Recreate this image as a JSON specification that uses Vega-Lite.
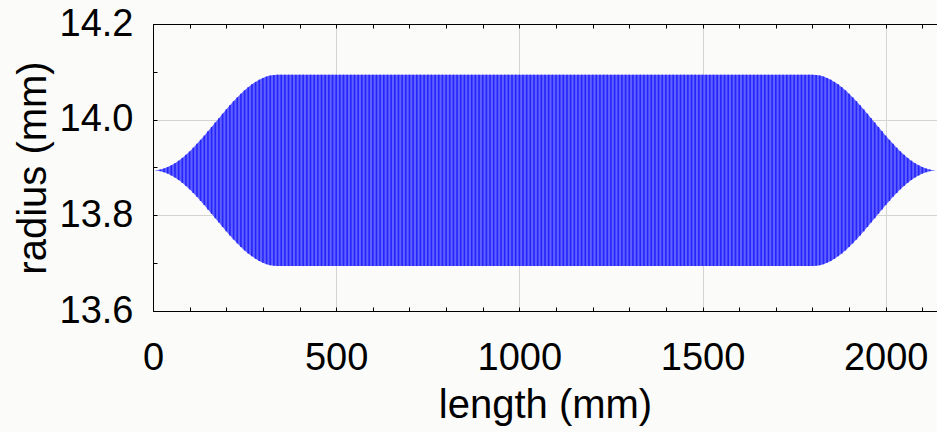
{
  "$schema": "https://vega.github.io/schema/vega-lite/v6.json",
  "width": 784,
  "height": 287,
  "autosize": {"type": "none"},
  "padding": {"left": 153, "top": 24, "right": 0, "bottom": 121},
  "background": "#fbfcfa",
  "config": {
    "view": {"stroke": null},
    "font": "Liberation Sans",
    "axis": {
      "domainColor": "#000000",
      "tickColor": "#000000",
      "labelColor": "#000000",
      "titleColor": "#000000",
      "labelFont": "Liberation Sans",
      "titleFont": "Liberation Sans",
      "labelFontSize": 38,
      "titleFontSize": 40,
      "titleFontWeight": "normal",
      "gridColor": "#d4d4d4",
      "gridWidth": 1
    }
  },
  "data": {"values": [
    {"x": 0, "lo": 13.894, "hi": 13.894},
    {"x": 10, "lo": 13.8936, "hi": 13.8944},
    {"x": 20, "lo": 13.8923, "hi": 13.8957},
    {"x": 30, "lo": 13.8902, "hi": 13.8978},
    {"x": 40, "lo": 13.8872, "hi": 13.9008},
    {"x": 50, "lo": 13.8835, "hi": 13.9045},
    {"x": 60, "lo": 13.879, "hi": 13.909},
    {"x": 70, "lo": 13.8738, "hi": 13.9142},
    {"x": 80, "lo": 13.8679, "hi": 13.9201},
    {"x": 90, "lo": 13.8614, "hi": 13.9266},
    {"x": 100, "lo": 13.8543, "hi": 13.9337},
    {"x": 110, "lo": 13.8466, "hi": 13.9414},
    {"x": 120, "lo": 13.8386, "hi": 13.9494},
    {"x": 130, "lo": 13.8301, "hi": 13.9579},
    {"x": 140, "lo": 13.8214, "hi": 13.9666},
    {"x": 150, "lo": 13.8124, "hi": 13.9756},
    {"x": 160, "lo": 13.8032, "hi": 13.9848},
    {"x": 170, "lo": 13.794, "hi": 13.994},
    {"x": 180, "lo": 13.7848, "hi": 14.0032},
    {"x": 190, "lo": 13.7756, "hi": 14.0124},
    {"x": 200, "lo": 13.7666, "hi": 14.0214},
    {"x": 210, "lo": 13.7579, "hi": 14.0301},
    {"x": 220, "lo": 13.7494, "hi": 14.0386},
    {"x": 230, "lo": 13.7414, "hi": 14.0466},
    {"x": 240, "lo": 13.7337, "hi": 14.0543},
    {"x": 250, "lo": 13.7266, "hi": 14.0614},
    {"x": 260, "lo": 13.7201, "hi": 14.0679},
    {"x": 270, "lo": 13.7142, "hi": 14.0738},
    {"x": 280, "lo": 13.709, "hi": 14.079},
    {"x": 290, "lo": 13.7045, "hi": 14.0835},
    {"x": 300, "lo": 13.7008, "hi": 14.0872},
    {"x": 310, "lo": 13.6978, "hi": 14.0902},
    {"x": 320, "lo": 13.6957, "hi": 14.0923},
    {"x": 330, "lo": 13.6944, "hi": 14.0936},
    {"x": 340, "lo": 13.694, "hi": 14.094},
    {"x": 350, "lo": 13.694, "hi": 14.094},
    {"x": 360, "lo": 13.694, "hi": 14.094},
    {"x": 370, "lo": 13.694, "hi": 14.094},
    {"x": 380, "lo": 13.694, "hi": 14.094},
    {"x": 390, "lo": 13.694, "hi": 14.094},
    {"x": 400, "lo": 13.694, "hi": 14.094},
    {"x": 410, "lo": 13.694, "hi": 14.094},
    {"x": 420, "lo": 13.694, "hi": 14.094},
    {"x": 430, "lo": 13.694, "hi": 14.094},
    {"x": 440, "lo": 13.694, "hi": 14.094},
    {"x": 450, "lo": 13.694, "hi": 14.094},
    {"x": 460, "lo": 13.694, "hi": 14.094},
    {"x": 470, "lo": 13.694, "hi": 14.094},
    {"x": 480, "lo": 13.694, "hi": 14.094},
    {"x": 490, "lo": 13.694, "hi": 14.094},
    {"x": 500, "lo": 13.694, "hi": 14.094},
    {"x": 510, "lo": 13.694, "hi": 14.094},
    {"x": 520, "lo": 13.694, "hi": 14.094},
    {"x": 530, "lo": 13.694, "hi": 14.094},
    {"x": 540, "lo": 13.694, "hi": 14.094},
    {"x": 550, "lo": 13.694, "hi": 14.094},
    {"x": 560, "lo": 13.694, "hi": 14.094},
    {"x": 570, "lo": 13.694, "hi": 14.094},
    {"x": 580, "lo": 13.694, "hi": 14.094},
    {"x": 590, "lo": 13.694, "hi": 14.094},
    {"x": 600, "lo": 13.694, "hi": 14.094},
    {"x": 610, "lo": 13.694, "hi": 14.094},
    {"x": 620, "lo": 13.694, "hi": 14.094},
    {"x": 630, "lo": 13.694, "hi": 14.094},
    {"x": 640, "lo": 13.694, "hi": 14.094},
    {"x": 650, "lo": 13.694, "hi": 14.094},
    {"x": 660, "lo": 13.694, "hi": 14.094},
    {"x": 670, "lo": 13.694, "hi": 14.094},
    {"x": 680, "lo": 13.694, "hi": 14.094},
    {"x": 690, "lo": 13.694, "hi": 14.094},
    {"x": 700, "lo": 13.694, "hi": 14.094},
    {"x": 710, "lo": 13.694, "hi": 14.094},
    {"x": 720, "lo": 13.694, "hi": 14.094},
    {"x": 730, "lo": 13.694, "hi": 14.094},
    {"x": 740, "lo": 13.694, "hi": 14.094},
    {"x": 750, "lo": 13.694, "hi": 14.094},
    {"x": 760, "lo": 13.694, "hi": 14.094},
    {"x": 770, "lo": 13.694, "hi": 14.094},
    {"x": 780, "lo": 13.694, "hi": 14.094},
    {"x": 790, "lo": 13.694, "hi": 14.094},
    {"x": 800, "lo": 13.694, "hi": 14.094},
    {"x": 810, "lo": 13.694, "hi": 14.094},
    {"x": 820, "lo": 13.694, "hi": 14.094},
    {"x": 830, "lo": 13.694, "hi": 14.094},
    {"x": 840, "lo": 13.694, "hi": 14.094},
    {"x": 850, "lo": 13.694, "hi": 14.094},
    {"x": 860, "lo": 13.694, "hi": 14.094},
    {"x": 870, "lo": 13.694, "hi": 14.094},
    {"x": 880, "lo": 13.694, "hi": 14.094},
    {"x": 890, "lo": 13.694, "hi": 14.094},
    {"x": 900, "lo": 13.694, "hi": 14.094},
    {"x": 910, "lo": 13.694, "hi": 14.094},
    {"x": 920, "lo": 13.694, "hi": 14.094},
    {"x": 930, "lo": 13.694, "hi": 14.094},
    {"x": 940, "lo": 13.694, "hi": 14.094},
    {"x": 950, "lo": 13.694, "hi": 14.094},
    {"x": 960, "lo": 13.694, "hi": 14.094},
    {"x": 970, "lo": 13.694, "hi": 14.094},
    {"x": 980, "lo": 13.694, "hi": 14.094},
    {"x": 990, "lo": 13.694, "hi": 14.094},
    {"x": 1000, "lo": 13.694, "hi": 14.094},
    {"x": 1010, "lo": 13.694, "hi": 14.094},
    {"x": 1020, "lo": 13.694, "hi": 14.094},
    {"x": 1030, "lo": 13.694, "hi": 14.094},
    {"x": 1040, "lo": 13.694, "hi": 14.094},
    {"x": 1050, "lo": 13.694, "hi": 14.094},
    {"x": 1060, "lo": 13.694, "hi": 14.094},
    {"x": 1070, "lo": 13.694, "hi": 14.094},
    {"x": 1080, "lo": 13.694, "hi": 14.094},
    {"x": 1090, "lo": 13.694, "hi": 14.094},
    {"x": 1100, "lo": 13.694, "hi": 14.094},
    {"x": 1110, "lo": 13.694, "hi": 14.094},
    {"x": 1120, "lo": 13.694, "hi": 14.094},
    {"x": 1130, "lo": 13.694, "hi": 14.094},
    {"x": 1140, "lo": 13.694, "hi": 14.094},
    {"x": 1150, "lo": 13.694, "hi": 14.094},
    {"x": 1160, "lo": 13.694, "hi": 14.094},
    {"x": 1170, "lo": 13.694, "hi": 14.094},
    {"x": 1180, "lo": 13.694, "hi": 14.094},
    {"x": 1190, "lo": 13.694, "hi": 14.094},
    {"x": 1200, "lo": 13.694, "hi": 14.094},
    {"x": 1210, "lo": 13.694, "hi": 14.094},
    {"x": 1220, "lo": 13.694, "hi": 14.094},
    {"x": 1230, "lo": 13.694, "hi": 14.094},
    {"x": 1240, "lo": 13.694, "hi": 14.094},
    {"x": 1250, "lo": 13.694, "hi": 14.094},
    {"x": 1260, "lo": 13.694, "hi": 14.094},
    {"x": 1270, "lo": 13.694, "hi": 14.094},
    {"x": 1280, "lo": 13.694, "hi": 14.094},
    {"x": 1290, "lo": 13.694, "hi": 14.094},
    {"x": 1300, "lo": 13.694, "hi": 14.094},
    {"x": 1310, "lo": 13.694, "hi": 14.094},
    {"x": 1320, "lo": 13.694, "hi": 14.094},
    {"x": 1330, "lo": 13.694, "hi": 14.094},
    {"x": 1340, "lo": 13.694, "hi": 14.094},
    {"x": 1350, "lo": 13.694, "hi": 14.094},
    {"x": 1360, "lo": 13.694, "hi": 14.094},
    {"x": 1370, "lo": 13.694, "hi": 14.094},
    {"x": 1380, "lo": 13.694, "hi": 14.094},
    {"x": 1390, "lo": 13.694, "hi": 14.094},
    {"x": 1400, "lo": 13.694, "hi": 14.094},
    {"x": 1410, "lo": 13.694, "hi": 14.094},
    {"x": 1420, "lo": 13.694, "hi": 14.094},
    {"x": 1430, "lo": 13.694, "hi": 14.094},
    {"x": 1440, "lo": 13.694, "hi": 14.094},
    {"x": 1450, "lo": 13.694, "hi": 14.094},
    {"x": 1460, "lo": 13.694, "hi": 14.094},
    {"x": 1470, "lo": 13.694, "hi": 14.094},
    {"x": 1480, "lo": 13.694, "hi": 14.094},
    {"x": 1490, "lo": 13.694, "hi": 14.094},
    {"x": 1500, "lo": 13.694, "hi": 14.094},
    {"x": 1510, "lo": 13.694, "hi": 14.094},
    {"x": 1520, "lo": 13.694, "hi": 14.094},
    {"x": 1530, "lo": 13.694, "hi": 14.094},
    {"x": 1540, "lo": 13.694, "hi": 14.094},
    {"x": 1550, "lo": 13.694, "hi": 14.094},
    {"x": 1560, "lo": 13.694, "hi": 14.094},
    {"x": 1570, "lo": 13.694, "hi": 14.094},
    {"x": 1580, "lo": 13.694, "hi": 14.094},
    {"x": 1590, "lo": 13.694, "hi": 14.094},
    {"x": 1600, "lo": 13.694, "hi": 14.094},
    {"x": 1610, "lo": 13.694, "hi": 14.094},
    {"x": 1620, "lo": 13.694, "hi": 14.094},
    {"x": 1630, "lo": 13.694, "hi": 14.094},
    {"x": 1640, "lo": 13.694, "hi": 14.094},
    {"x": 1650, "lo": 13.694, "hi": 14.094},
    {"x": 1660, "lo": 13.694, "hi": 14.094},
    {"x": 1670, "lo": 13.694, "hi": 14.094},
    {"x": 1680, "lo": 13.694, "hi": 14.094},
    {"x": 1690, "lo": 13.694, "hi": 14.094},
    {"x": 1700, "lo": 13.694, "hi": 14.094},
    {"x": 1710, "lo": 13.694, "hi": 14.094},
    {"x": 1720, "lo": 13.694, "hi": 14.094},
    {"x": 1730, "lo": 13.694, "hi": 14.094},
    {"x": 1740, "lo": 13.694, "hi": 14.094},
    {"x": 1750, "lo": 13.694, "hi": 14.094},
    {"x": 1760, "lo": 13.694, "hi": 14.094},
    {"x": 1770, "lo": 13.694, "hi": 14.094},
    {"x": 1780, "lo": 13.694, "hi": 14.094},
    {"x": 1790, "lo": 13.694, "hi": 14.094},
    {"x": 1800, "lo": 13.694, "hi": 14.094},
    {"x": 1810, "lo": 13.6944, "hi": 14.0936},
    {"x": 1820, "lo": 13.6957, "hi": 14.0923},
    {"x": 1830, "lo": 13.6978, "hi": 14.0902},
    {"x": 1840, "lo": 13.7008, "hi": 14.0872},
    {"x": 1850, "lo": 13.7045, "hi": 14.0835},
    {"x": 1860, "lo": 13.709, "hi": 14.079},
    {"x": 1870, "lo": 13.7142, "hi": 14.0738},
    {"x": 1880, "lo": 13.7201, "hi": 14.0679},
    {"x": 1890, "lo": 13.7266, "hi": 14.0614},
    {"x": 1900, "lo": 13.7337, "hi": 14.0543},
    {"x": 1910, "lo": 13.7414, "hi": 14.0466},
    {"x": 1920, "lo": 13.7494, "hi": 14.0386},
    {"x": 1930, "lo": 13.7579, "hi": 14.0301},
    {"x": 1940, "lo": 13.7666, "hi": 14.0214},
    {"x": 1950, "lo": 13.7756, "hi": 14.0124},
    {"x": 1960, "lo": 13.7848, "hi": 14.0032},
    {"x": 1970, "lo": 13.794, "hi": 13.994},
    {"x": 1980, "lo": 13.8032, "hi": 13.9848},
    {"x": 1990, "lo": 13.8124, "hi": 13.9756},
    {"x": 2000, "lo": 13.8214, "hi": 13.9666},
    {"x": 2010, "lo": 13.8301, "hi": 13.9579},
    {"x": 2020, "lo": 13.8386, "hi": 13.9494},
    {"x": 2030, "lo": 13.8466, "hi": 13.9414},
    {"x": 2040, "lo": 13.8543, "hi": 13.9337},
    {"x": 2050, "lo": 13.8614, "hi": 13.9266},
    {"x": 2060, "lo": 13.8679, "hi": 13.9201},
    {"x": 2070, "lo": 13.8738, "hi": 13.9142},
    {"x": 2080, "lo": 13.879, "hi": 13.909},
    {"x": 2090, "lo": 13.8835, "hi": 13.9045},
    {"x": 2100, "lo": 13.8872, "hi": 13.9008},
    {"x": 2110, "lo": 13.8902, "hi": 13.8978},
    {"x": 2120, "lo": 13.8923, "hi": 13.8957},
    {"x": 2130, "lo": 13.8936, "hi": 13.8944},
    {"x": 2140, "lo": 13.894, "hi": 13.894}
  ]},
  "resolve": {"axis": {"x": "independent"}},
  "layer": [
    {
      "mark": {"type": "area", "color": "#6060ff", "opacity": 1},
      "encoding": {
        "x": {
          "field": "x", "type": "quantitative",
          "scale": {"domain": [0, 2140], "nice": false, "zero": false},
          "axis": {
            "orient": "bottom",
            "title": "length (mm)",
            "values": [0, 100, 200, 300, 400, 500, 600, 700, 800, 900, 1000, 1100, 1200, 1300, 1400, 1500, 1600, 1700, 1800, 1900, 2000, 2100],
            "labelExpr": "datum.value % 500 === 0 ? datum.label : ''",
            "format": "d",
            "tickSize": -4,
            "labelPadding": 32,
            "labelFlush": false,
            "labelOverlap": false,
            "grid": true,
            "gridOpacity": {"condition": {"test": "datum.value % 500 === 0", "value": 1}, "value": 0},
            "titlePadding": 8
          }
        },
        "y": {
          "field": "lo", "type": "quantitative",
          "scale": {"domain": [13.6, 14.2], "nice": false, "zero": false},
          "axis": {
            "title": "radius (mm)",
            "values": [13.6, 13.65, 13.7, 13.75, 13.8, 13.85, 13.9, 13.95, 14.0, 14.05, 14.1, 14.15, 14.2],
            "format": ".1f",
            "labelExpr": "abs(datum.value * 5 - round(datum.value * 5)) < 0.001 ? datum.label : ''",
            "tickSize": -4,
            "labelPadding": 24,
            "labelFlush": false,
            "labelOverlap": false,
            "grid": true,
            "gridOpacity": {"condition": {"test": "abs(datum.value * 5 - round(datum.value * 5)) < 0.001", "value": 1}, "value": 0},
            "titlePadding": 6
          }
        },
        "y2": {"field": "hi"}
      }
    },
    {
      "mark": {"type": "rule", "color": "#2424ff", "strokeWidth": 1.6},
      "encoding": {
        "x": {
          "field": "x", "type": "quantitative",
          "scale": {"domain": [0, 2140], "nice": false, "zero": false},
          "axis": {
            "orient": "top",
            "title": null,
            "values": [0, 100, 200, 300, 400, 500, 600, 700, 800, 900, 1000, 1100, 1200, 1300, 1400, 1500, 1600, 1700, 1800, 1900, 2000, 2100],
            "labels": false,
            "tickSize": -4,
            "grid": false
          }
        },
        "y": {"field": "lo", "type": "quantitative"},
        "y2": {"field": "hi"}
      }
    }
  ]
}
